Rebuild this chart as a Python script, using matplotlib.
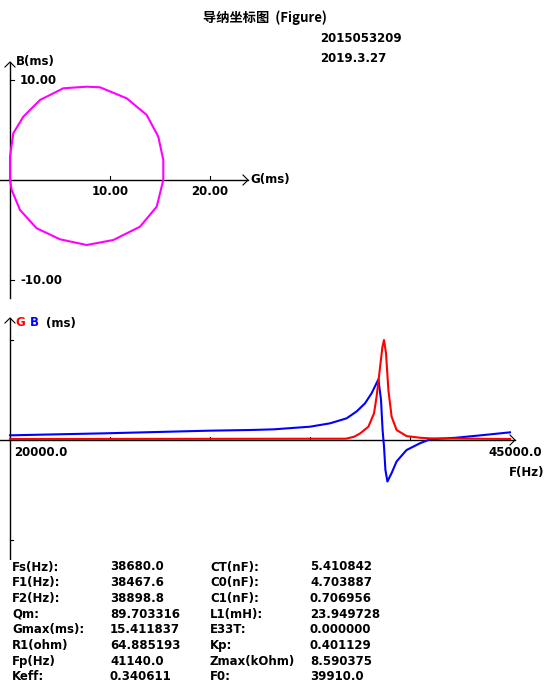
import matplotlib
matplotlib.use("Agg")
import matplotlib.pyplot as plt

plt.rcParams['font.family'] = ['DejaVu Sans']

# admittance circle (G, B) in ms
circle_G = [0, 0.0, 0.33, 1.33, 3.0, 5.33, 7.67, 9.0, 11.67, 13.67, 14.83, 15.33, 15.33, 14.67,
            13.0, 10.33, 7.67, 5.0, 2.67, 1.0, 0.17, 0]
circle_B = [0, 2.33, 4.67, 6.33, 8.0, 9.17, 9.33, 9.27, 8.17, 6.5, 4.33, 2.0, 0, -2.67,
            -4.67, -6.0, -6.5, -5.93, -4.83, -3.0, -1.0, 0]

# frequency sweep
blue_F = [20000, 24750, 30000, 32000, 33170, 35000, 36000, 36830, 37330, 37750, 38080, 38420, 38550,
          38630, 38700, 38770, 38870, 39080, 39330, 39830, 40500, 41000, 42300, 43700, 45000]
blue_B = [0.72, 1.03, 1.44, 1.54, 1.64, 2.05, 2.57, 3.34, 4.4, 5.65, 7.2, 9.35, 6.2,
          1.5, -1.0, -4.6, -6.4, -5.1, -3.3, -1.54, -0.5, 0.1, 0.35, 0.77, 1.18]
red_F = [20000, 36800, 37200, 37500, 37920, 38200, 38330, 38450, 38620, 38700, 38800, 38920, 39080,
         39330, 39830, 40500, 41000, 45000]
red_G = [0.15, 0.2, 0.5, 1.0, 2.05, 4.1, 6.7, 9.8, 14.3, 15.41, 13.4, 7.7, 3.6,
         1.54, 0.6, 0.35, 0.25, 0.15]

circle_ticks = [10, 20]
circle_ylabels = [10, -10]
freq_ticks = [25000, 30000, 35000, 40000]
gmax = 15.411837

table_rows = [
    ("Fs(Hz):", "38680.0", "CT(nF):", "5.410842"),
    ("F1(Hz):", "38467.6", "C0(nF):", "4.703887"),
    ("F2(Hz):", "38898.8", "C1(nF):", "0.706956"),
    ("Qm:", "89.703316", "L1(mH):", "23.949728"),
    ("Gmax(ms):", "15.411837", "E33T:", "0.000000"),
    ("R1(ohm)", "64.885193", "Kp:", "0.401129"),
    ("Fp(Hz)", "41140.0", "Zmax(kOhm)", "8.590375"),
    ("Keff:", "0.340611", "F0:", "39910.0"),
]

W, H = 550, 700
fig = plt.figure(figsize=(5.5, 7), dpi=100)

def ax_px(x0, y0, x1, y1):
    return fig.add_axes([x0 / W, 1 - y1 / H, (x1 - x0) / W, (y1 - y0) / H])

FS = 8.5
bold = dict(fontsize=FS, fontweight='bold')

# ---- top: admittance circle ----
ax1 = ax_px(0, 50, 260, 300)
ax1.set_xlim(-1, 25)
ax1.set_ylim(-12, 13)
ax1.axis('off')
ax1.plot([-1, 23.8], [0, 0], color='black', lw=1)
ax1.plot([0, 0], [-11.8, 11.8], color='black', lw=1)
ax1.plot([23.3, 23.8, 23.3], [0.5, 0, -0.5], color='black', lw=0.8)
ax1.plot([-0.5, 0, 0.5], [11.3, 11.8, 11.3], color='black', lw=0.8)
for t in circle_ticks:
    ax1.plot([t, t], [0, 0.4], color='black', lw=0.8)
    ax1.text(t, -0.5, f"{t:.2f}", ha='center', va='top', **bold)
for t in circle_ylabels:
    ax1.plot([0, 0.4], [t, t], color='black', lw=0.8)
    ax1.text(1.0, t, f"{t:.2f}", ha='left', va='center', **bold)
ax1.text(0.6, 11.8, "B(ms)", ha='left', va='center', **bold)
ax1.text(24.0, 0, "G(ms)", ha='left', va='center', **bold)
ax1.plot(circle_G, circle_B, color='#ff00ff', lw=1.5)

# ---- bottom: G/B vs frequency ----
ax2 = ax_px(0, 310, 550, 560)
fpx = 50.0
ax2.set_xlim(20000 - 10 * fpx, 20000 + 540 * fpx)
s = gmax / 100
ax2.set_ylim(-120 * s, 130 * s)
ax2.axis('off')
ax2.plot([20000 - 10 * fpx, 20000 + 505 * fpx], [0, 0], color='black', lw=1)
ax2.plot([20000, 20000], [-120 * s, 122 * s], color='black', lw=1)
ax2.plot([20000 + 500 * fpx, 20000 + 505 * fpx, 20000 + 500 * fpx], [5 * s, 0, -5 * s], color='black', lw=0.8)
ax2.plot([20000 - 5 * fpx, 20000, 20000 + 5 * fpx], [117 * s, 122 * s, 117 * s], color='black', lw=0.8)
for t in freq_ticks:
    ax2.plot([t, t], [0, 3 * s], color='black', lw=0.8)
for t in [gmax, -gmax]:
    ax2.plot([20000, 20000 + 3 * fpx], [t, t], color='black', lw=0.8)
ax2.text(20000 + 4 * fpx, -6 * s, "20000.0", ha='left', va='top', **bold)
ax2.text(20000 + 532 * fpx, -6 * s, "45000.0", ha='right', va='top', **bold)
ax2.text(20000 + 534 * fpx, -26 * s, "F(Hz)", ha='right', va='top', **bold)
ax2.plot(blue_F, blue_B, color='#0000ff', lw=1.5)
ax2.plot(red_F, red_G, color='#ff0000', lw=1.5)

def ftext(x, y, s_, **kw):
    fig.text(x / W, 1 - y / H, s_, va='center', **kw)

ftext(15, 323, "G", color='red', **bold)
ftext(30, 323, "B", color='blue', **bold)
ftext(46, 323, "(ms)", color='black', **bold)

ftext(265, 18, "导纳坐标图  (Figure)", ha='center', fontsize=9.5, fontweight='bold',
      family=['Noto Sans CJK SC', 'DejaVu Sans'])
ftext(320, 38, "2015053209", ha='left', **bold)
ftext(320, 58, "2019.3.27", ha='left', **bold)

cols = [12, 110, 210, 310]
for i, row in enumerate(table_rows):
    y = 567 + i * 15.7
    for x, txt in zip(cols, row):
        ftext(x, y, txt, ha='left', **bold)

fig.savefig("out.png", dpi=100, facecolor='white')
